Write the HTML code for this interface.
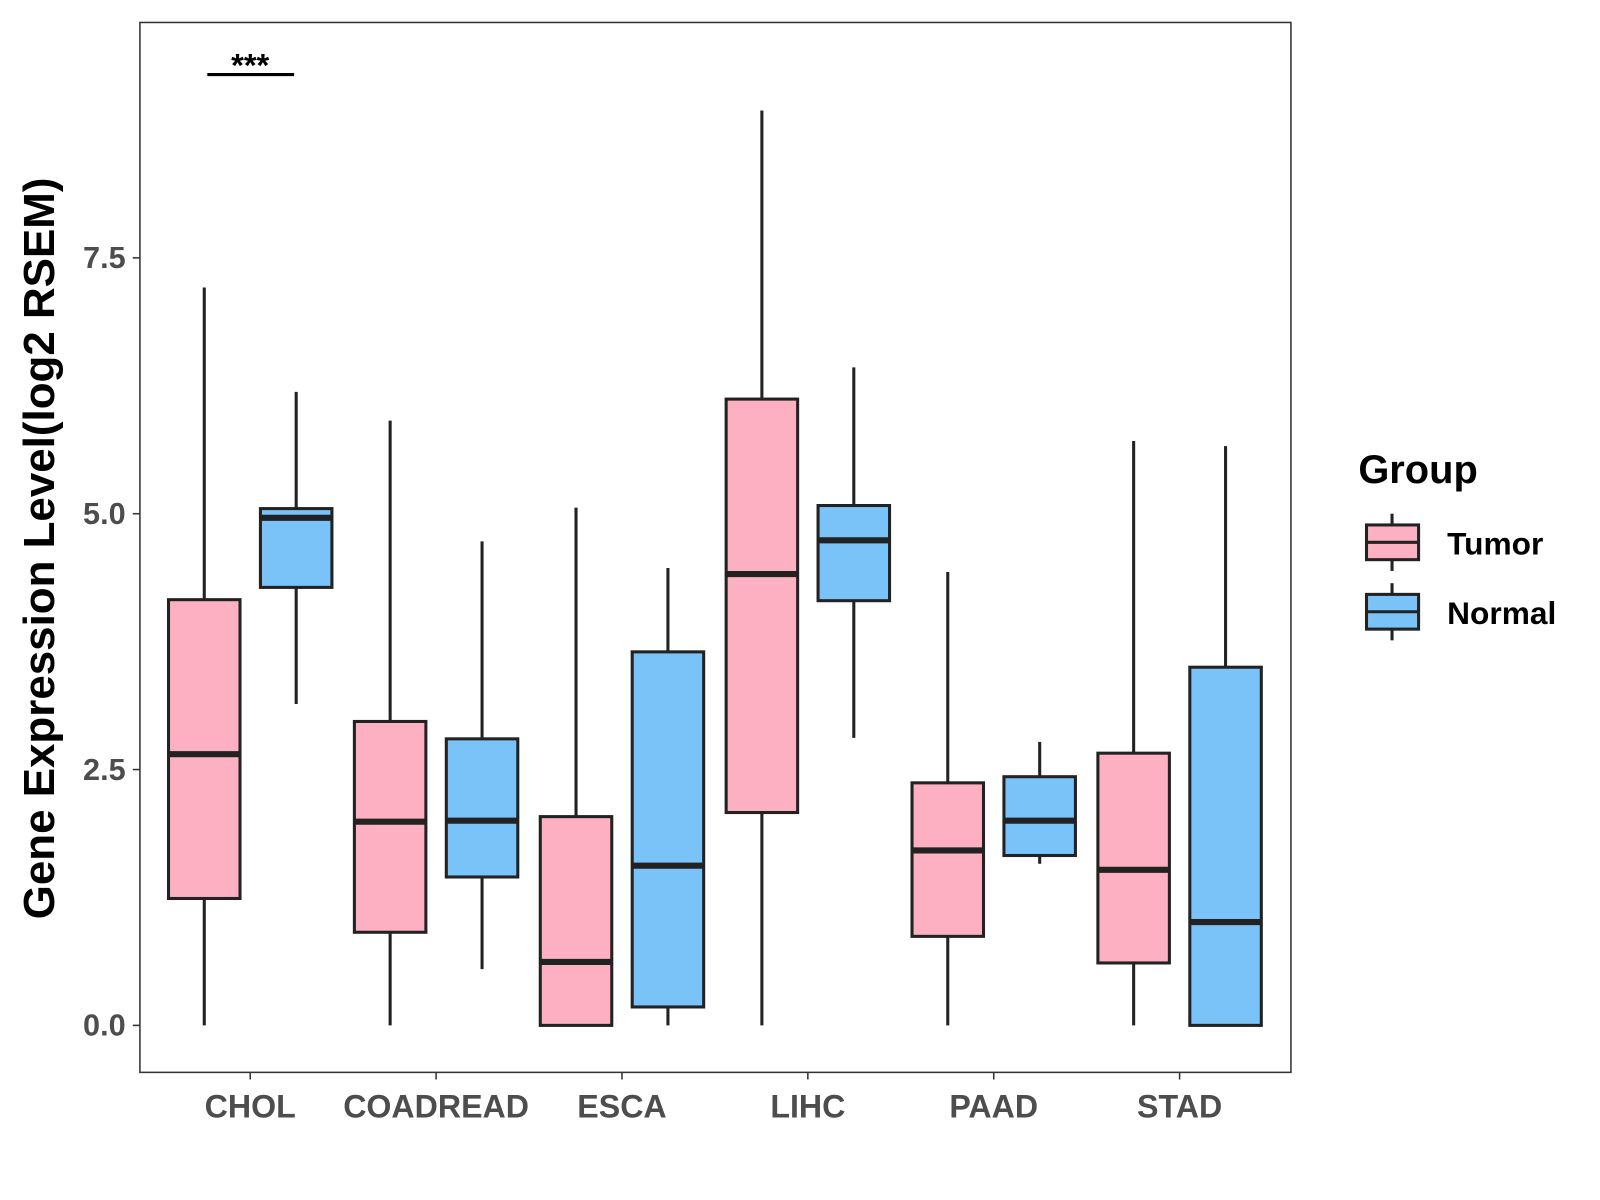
<!DOCTYPE html>
<html><head><meta charset="utf-8"><style>
html,body{margin:0;padding:0;background:#fff;}
svg{display:block;font-family:"Liberation Sans",Arial,sans-serif;}
</style></head><body>
<svg id="chart" width="1600" height="1200" viewBox="0 0 1600 1200" xmlns="http://www.w3.org/2000/svg">
<rect x="0" y="0" width="1600" height="1200" fill="#fff"/>
<g transform="scale(1.0213)">
<rect x="137" y="22" width="1127" height="1028" fill="none" stroke="#333" stroke-width="1.5"/>
<g id="marks"></g>
<g id="axes"></g>
<text transform="translate(53,537) rotate(-90)" text-anchor="middle" font-size="43" font-weight="bold" fill="#000">Gene Expression Level(log2 RSEM)</text>
<g>
<line x1="203" y1="73" x2="288" y2="73" stroke="#000" stroke-width="3"/>
<text x="245" y="75" text-anchor="middle" font-size="32" font-weight="bold">***</text>
</g>
<g>
<text x="1330" y="473" font-size="39" font-weight="bold">Group</text>
<g>
<line x1="1363" y1="503" x2="1363" y2="559" stroke="#222" stroke-width="3"/>
<rect x="1338" y="514" width="51" height="34" fill="#FCB0C2" stroke="#222" stroke-width="3"/>
<line x1="1338" y1="531" x2="1389" y2="531" stroke="#222" stroke-width="3"/>
<text x="1417" y="543" font-size="31" font-weight="bold">Tumor</text>
</g>
<g>
<line x1="1363" y1="571" x2="1363" y2="627" stroke="#222" stroke-width="3"/>
<rect x="1338" y="582" width="51" height="34" fill="#79C3F8" stroke="#222" stroke-width="3"/>
<line x1="1338" y1="599" x2="1389" y2="599" stroke="#222" stroke-width="3"/>
<text x="1417" y="611" font-size="31" font-weight="bold">Normal</text>
</g>
</g>
</g>
</svg>
<script>
const categories = ["CHOL","COADREAD","ESCA","LIHC","PAAD","STAD"];
const groups = ["Tumor","Normal"];
// [whiskerMax, q3, median, q1, whiskerMin]
const tumorStats = [
  [7.21,4.16,2.65,1.24,0],
  [5.91,2.97,1.99,0.91,0],
  [5.06,2.04,0.62,0,0],
  [8.94,6.12,4.41,2.08,0],
  [4.43,2.37,1.71,0.87,0],
  [5.71,2.66,1.52,0.61,0]
];
const normalStats = [
  [6.19,5.05,4.96,4.28,3.14],
  [4.73,2.80,2.00,1.45,0.55],
  [4.47,3.65,1.56,0.18,0],
  [6.43,5.08,4.74,4.15,2.81],
  [2.77,2.43,2.00,1.66,1.58],
  [5.66,3.50,1.01,0,0]
];
const yTicks = [0,2.5,5,7.5];
const yTickLabels = ["0.0","2.5","5.0","7.5"];

const NS="http://www.w3.org/2000/svg";
const yScale = v => 1004 - v*100.2;
const xScale = i => 245 + i*182;
const fills = ["#FCB0C2","#79C3F8"];
function mk(tag, attrs, parent){const e=document.createElementNS(NS,tag);for(const k in attrs)e.setAttribute(k,attrs[k]);parent.appendChild(e);return e;}
const marks=document.getElementById("marks"), axes=document.getElementById("axes");
[tumorStats,normalStats].forEach((series,gi)=>{
  series.forEach((s,ci)=>{
    const cx = xScale(ci) + (gi===0?-45:45), w=70;
    const g=mk("g",{},marks);
    
    
    mk("line",{x1:cx,x2:cx,y1:yScale(s[0]),y2:yScale(s[4]),stroke:"#222","stroke-width":3},g);
    mk("rect",{x:cx-w/2,y:yScale(s[1]),width:w,height:yScale(s[3])-yScale(s[1]),fill:fills[gi],stroke:"#222","stroke-width":3},g);
    mk("line",{x1:cx-w/2,x2:cx+w/2,y1:yScale(s[2]),y2:yScale(s[2]),stroke:"#222","stroke-width":6},g);
  });
});
yTicks.forEach((t,i)=>{
  const y=yScale(t);
  const l=mk("line",{x1:130,x2:137,y1:y,y2:y,stroke:"#333","stroke-width":1.5},axes);
  
  
  const tx=mk("text",{x:123,y:y+10,"text-anchor":"end","font-size":30,"font-weight":"bold",fill:"#4d4d4d"},axes);
  tx.textContent=yTickLabels[i];
  
  
});
categories.forEach((c,i)=>{
  const x=xScale(i);
  const l=mk("line",{x1:x,x2:x,y1:1050,y2:1057,stroke:"#333","stroke-width":1.5},axes);
  
  
  const tx=mk("text",{x:x,y:1094,"text-anchor":"middle","font-size":31.5,"font-weight":"bold",fill:"#4d4d4d"},axes);
  tx.textContent=c;
  
  
});
</script>
</body></html>
